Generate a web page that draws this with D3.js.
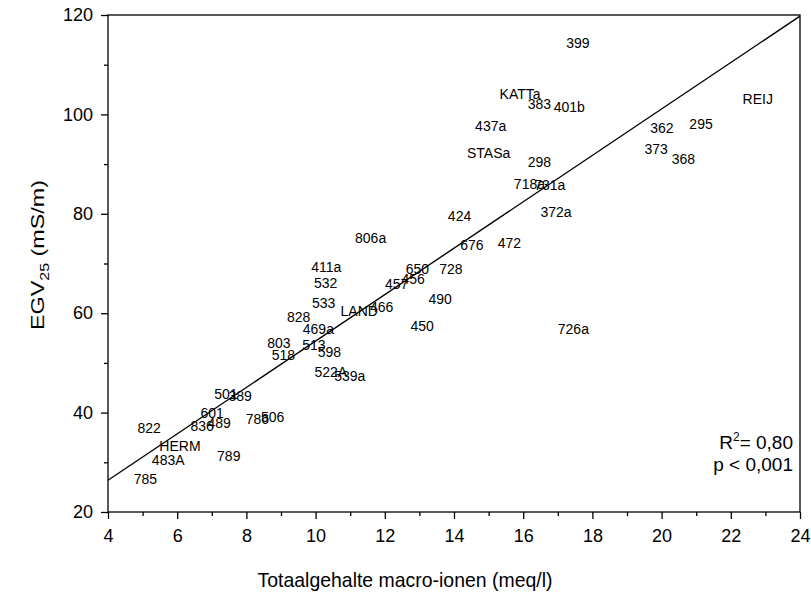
<!DOCTYPE html>
<html>
<head>
<meta charset="utf-8">
<script src="https://cdn.jsdelivr.net/npm/d3@7"></script>
<style>
  html, body { margin: 0; padding: 0; background: #fff; }
  svg { display: block; font-family: "Liberation Sans", Arial, sans-serif; }
</style>
</head>
<body>
<svg id="chart" width="811" height="595"></svg>
<script>
// Sample codes, total macro-ion content (meq/l) and EC25 (mS/m)
const sampleIds = [
  "399","KATTa","383","401b","437a","STASa","298","718a","731a",
  "362","295","REIJ","373","368","372a","424","806a","676","472",
  "411a","650","728","532","457","456","533","490","LAND","466",
  "828","450","726a","469a","803","513","518","598","522A","539a",
  "501","389","601","836","489","786","506","822","HERM","483A","789","785"
];
const macroIons = [
  17.58,15.91,16.47,17.33,15.06,15.00,16.47,16.18,16.77,
  20.01,21.14,22.78,19.84,20.63,16.95,14.16,11.59,14.52,15.60,
  10.31,12.94,13.91,10.29,12.34,12.82,10.23,13.60,11.26,11.91,
  9.51,13.08,17.45,10.08,8.94,9.95,9.07,10.40,10.44,10.99,
  7.41,7.82,7.01,6.72,7.21,8.32,8.76,5.19,6.08,5.74,7.49,5.08
];
const egv25 = [
  114.4,104.1,102.2,101.5,97.7,92.3,90.5,86.1,85.8,
  97.3,98.0,103.1,93.0,91.1,80.4,79.5,75.2,73.7,74.1,
  69.4,69.0,69.0,66.0,65.9,66.8,62.0,62.8,60.4,61.3,
  59.3,57.4,56.9,56.8,54.1,53.6,51.5,52.3,48.2,47.4,
  43.7,43.4,39.9,37.4,38.0,38.7,39.1,37.0,33.3,30.5,31.3,26.7
];

// Linear regression line
const fitIntercept = 7.7;
const fitSlope = 4.67;
const r2Text = "0,80";
const pText = "p < 0,001";

const xTicks = [4, 6, 8, 10, 12, 14, 16, 18, 20, 22, 24];
const yTicks = [20, 40, 60, 80, 100, 120];

const svg = d3.select("#chart");
const m = { left: 108, right: 800, top: 15, bottom: 512 };

const x = d3.scaleLinear().domain([4, 24]).range([m.left, m.right]);
const y = d3.scaleLinear().domain([20, 120]).range([m.bottom, m.top]);

// Frame
svg.append("rect")
  .attr("x", m.left).attr("y", m.top)
  .attr("width", m.right - m.left).attr("height", m.bottom - m.top)
  .attr("fill", "none").attr("stroke", "#000").attr("stroke-width", 1.3);

// X axis: major and minor ticks
const xAxis = svg.append("g").attr("transform", `translate(0,${m.bottom})`);
xAxis.call(d3.axisBottom(x).tickValues(d3.range(5, 24, 2)).tickSize(4).tickFormat(""));
xAxis.call(g => g.append("g").call(d3.axisBottom(x).tickValues(xTicks).tickSize(7).tickPadding(10)));
xAxis.selectAll(".domain").remove();
xAxis.selectAll("text").attr("font-size", 18).attr("fill", "#000")
  .attr("font-family", "Liberation Sans, Arial, sans-serif");
xAxis.selectAll("line").attr("stroke", "#000").attr("stroke-width", 1.3);

// Y axis: major and minor ticks
const yAxis = svg.append("g").attr("transform", `translate(${m.left},0)`);
yAxis.call(d3.axisLeft(y).tickValues(d3.range(30, 120, 20)).tickSize(4).tickFormat(""));
yAxis.call(g => g.append("g").call(d3.axisLeft(y).tickValues(yTicks).tickSize(7).tickPadding(8)));
yAxis.selectAll(".domain").remove();
yAxis.selectAll("text").attr("font-size", 18).attr("fill", "#000")
  .attr("font-family", "Liberation Sans, Arial, sans-serif");
yAxis.selectAll("line").attr("stroke", "#000").attr("stroke-width", 1.3);

// Regression line across the x domain
const [x0, x1] = x.domain();
svg.append("line")
  .attr("x1", x(x0)).attr("y1", y(fitIntercept + fitSlope * x0))
  .attr("x2", x(x1)).attr("y2", y(fitIntercept + fitSlope * x1))
  .attr("stroke", "#000").attr("stroke-width", 1.4);

// Sample labels placed at their data coordinates
svg.append("g")
  .selectAll("text")
  .data(sampleIds.map((id, i) => ({ id, mx: macroIons[i], ec: egv25[i] })))
  .join("text")
  .attr("x", d => x(d.mx))
  .attr("y", d => y(d.ec))
  .attr("dy", "0.36em")
  .attr("text-anchor", "middle")
  .attr("font-size", 14)
  .attr("fill", "#000")
  .text(d => d.id);

// Fit statistics
const stats = svg.append("g").attr("text-anchor", "end").attr("font-size", 19).attr("fill", "#000");
const r2 = stats.append("text").attr("x", 793).attr("y", 449);
r2.append("tspan").text("R");
r2.append("tspan").attr("font-size", 12).attr("dy", -8).text("2");
r2.append("tspan").attr("dy", 8).text("= " + r2Text);
stats.append("text").attr("x", 793).attr("y", 471).text(pText);

// Axis titles, stretched along their reading direction to the set lengths
function fitLength(sel, cx, cy, angle, len) {
  const w = sel.node().getComputedTextLength();
  sel.attr("transform", `translate(${cx},${cy}) rotate(${angle}) scale(${len / w},1)`);
}

const xTitle = svg.append("text")
  .attr("text-anchor", "middle").attr("font-size", 20).attr("fill", "#000")
  .text("Totaalgehalte macro-ionen (meq/l)");
fitLength(xTitle, 405, 587, 0, 295);

const yTitle = svg.append("text")
  .attr("text-anchor", "middle").attr("font-size", 19).attr("fill", "#000");
yTitle.append("tspan").text("EGV");
yTitle.append("tspan").attr("font-size", 13).attr("dy", 5).text("25");
yTitle.append("tspan").attr("dy", -5).text(" (mS/m)");
fitLength(yTitle, 44, 255, -90, 150);
</script>
</body>
</html>
